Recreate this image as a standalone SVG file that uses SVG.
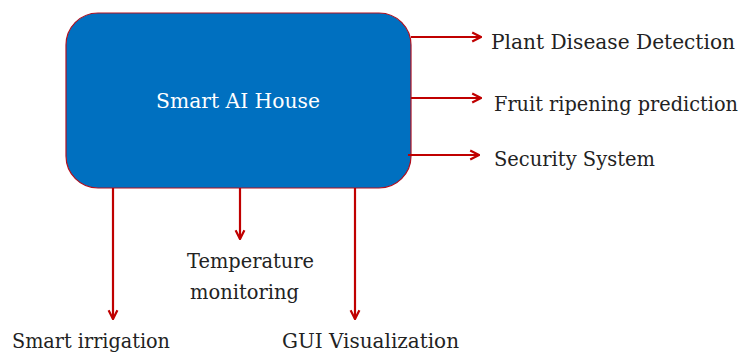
<svg xmlns="http://www.w3.org/2000/svg" width="741" height="354" viewBox="0 0 741 354">
<defs>
<marker id="ah" viewBox="0 0 10 10" refX="9" refY="5" markerWidth="5" markerHeight="5.5" orient="auto" markerUnits="strokeWidth">
<path d="M1,1 L9,5 L1,9" fill="none" stroke="#C00000" stroke-width="2"/>
</marker>
</defs>
<style>
.c{stroke:#C00000;stroke-width:2.2;fill:none;marker-end:url(#ah)}
.t{font-family:"DejaVu Serif","Liberation Serif",serif;font-size:19.5px;fill:#222}
</style>
<rect width="741" height="354" fill="#fff"/>
<g id="house">
<rect x="66" y="13" width="345" height="175" rx="32" fill="#0070C0" stroke="#B01020" stroke-width="1.2"/>
<text x="156" y="108" class="t" style="fill:#fff" textLength="164" lengthAdjust="spacingAndGlyphs">Smart AI House</text>
</g>
<g id="connectors">
<line class="c" x1="411" y1="37" x2="481" y2="37"/>
<line class="c" x1="411" y1="98" x2="481" y2="98"/>
<line class="c" x1="408" y1="155" x2="479" y2="155"/>
<line class="c" x1="113" y1="188" x2="113" y2="319"/>
<line class="c" x1="240" y1="188" x2="240" y2="239"/>
<line class="c" x1="355" y1="188" x2="355" y2="319"/>
</g>
<g id="plant"><text class="t" x="491" y="49" textLength="244" lengthAdjust="spacingAndGlyphs">Plant Disease Detection</text></g>
<g id="fruit"><text class="t" x="494" y="111" textLength="244" lengthAdjust="spacingAndGlyphs">Fruit ripening prediction</text></g>
<g id="security"><text class="t" x="494" y="166" textLength="161" lengthAdjust="spacingAndGlyphs">Security System</text></g>
<g id="temp"><text class="t" x="187" y="268" textLength="127" lengthAdjust="spacingAndGlyphs">Temperature</text><text class="t" x="190" y="299" textLength="109" lengthAdjust="spacingAndGlyphs">monitoring</text></g>
<g id="irrigation"><text class="t" x="12" y="348" textLength="158" lengthAdjust="spacingAndGlyphs">Smart irrigation</text></g>
<g id="gui"><text class="t" x="282" y="348" textLength="177" lengthAdjust="spacingAndGlyphs">GUI Visualization</text></g>
</svg>
